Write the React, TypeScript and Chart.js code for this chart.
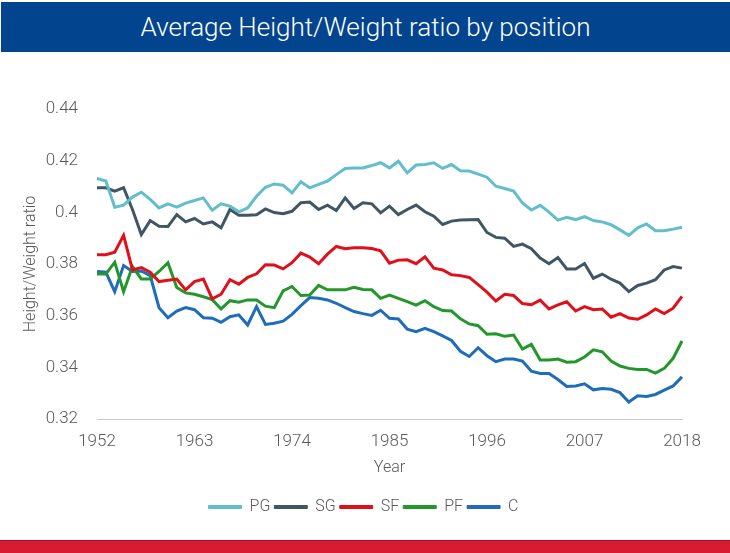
import React, { useEffect, useRef } from "react";
import { Chart, registerables } from "chart.js";

Chart.register(...registerables);

const years = [
  "1952","1953","1954","1955","1956","1957","1958","1959","1960","1961","1962",
  "1963","1964","1965","1966","1967","1968","1969","1970","1971","1972","1973",
  "1974","1975","1976","1977","1978","1979","1980","1981","1982","1983","1984",
  "1985","1986","1987","1988","1989","1990","1991","1992","1993","1994","1995",
  "1996","1997","1998","1999","2000","2001","2002","2003","2004","2005","2006",
  "2007","2008","2009","2010","2011","2012","2013","2014","2015","2016","2017",
  "2018",
];

const shownYears = ["1952", "1963", "1974", "1985", "1996", "2007", "2018"];

const pg = [
  0.4131, 0.4121, 0.4020, 0.4028, 0.4059, 0.4078, 0.4050, 0.4017, 0.4033, 0.4020, 0.4036,
  0.4046, 0.4056, 0.4008, 0.4033, 0.4024, 0.4002, 0.4017, 0.4062, 0.4097, 0.4110, 0.4105,
  0.4075, 0.4118, 0.4095, 0.4108, 0.4121, 0.4146, 0.4170, 0.4172, 0.4172, 0.4181, 0.4192,
  0.4172, 0.4198, 0.4153, 0.4183, 0.4185, 0.4192, 0.4170, 0.4185, 0.4161, 0.4160, 0.4148,
  0.4136, 0.4101, 0.4092, 0.4082, 0.4036, 0.4009, 0.4027, 0.4001, 0.3970, 0.3981, 0.3972,
  0.3983, 0.3968, 0.3963, 0.3952, 0.3932, 0.3911, 0.3940, 0.3955, 0.3929, 0.3929, 0.3935,
  0.3942,
];

const sg = [
  0.4095, 0.4095, 0.4082, 0.4095, 0.4011, 0.3914, 0.3968, 0.3946, 0.3945, 0.3991, 0.3963,
  0.3976, 0.3955, 0.3963, 0.3940, 0.4011, 0.3989, 0.3989, 0.3991, 0.4013, 0.3999, 0.3995,
  0.4004, 0.4037, 0.4040, 0.4011, 0.4028, 0.4007, 0.4056, 0.4015, 0.4037, 0.4033, 0.3998,
  0.4024, 0.3991, 0.4011, 0.4028, 0.4002, 0.3985, 0.3953, 0.3966, 0.3970, 0.3971, 0.3972,
  0.3922, 0.3903, 0.3900, 0.3868, 0.3877, 0.3859, 0.3823, 0.3801, 0.3825, 0.3781, 0.3781,
  0.3802, 0.3745, 0.3761, 0.3741, 0.3726, 0.3693, 0.3717, 0.3726, 0.3739, 0.3777, 0.3790,
  0.3784,
];

const sf = [
  0.3836, 0.3836, 0.3846, 0.3911, 0.3777, 0.3786, 0.3768, 0.3732, 0.3737, 0.3742, 0.3700,
  0.3732, 0.3742, 0.3665, 0.3683, 0.3739, 0.3722, 0.3748, 0.3762, 0.3797, 0.3796, 0.3781,
  0.3805, 0.3842, 0.3827, 0.3801, 0.3838, 0.3868, 0.3859, 0.3863, 0.3863, 0.3860, 0.3851,
  0.3803, 0.3815, 0.3816, 0.3801, 0.3828, 0.3784, 0.3777, 0.3758, 0.3755, 0.3748, 0.3720,
  0.3691, 0.3657, 0.3683, 0.3678, 0.3647, 0.3642, 0.3660, 0.3626, 0.3642, 0.3654, 0.3618,
  0.3635, 0.3623, 0.3626, 0.3594, 0.3608, 0.3591, 0.3586, 0.3603, 0.3626, 0.3608, 0.3629,
  0.3675,
];

const pf = [
  0.3761, 0.3761, 0.3807, 0.3693, 0.3790, 0.3742, 0.3742, 0.3771, 0.3805, 0.3709, 0.3688,
  0.3683, 0.3673, 0.3662, 0.3626, 0.3658, 0.3652, 0.3661, 0.3661, 0.3637, 0.3631, 0.3696,
  0.3713, 0.3678, 0.3680, 0.3717, 0.3700, 0.3700, 0.3700, 0.3710, 0.3701, 0.3700, 0.3667,
  0.3680, 0.3667, 0.3654, 0.3641, 0.3658, 0.3635, 0.3620, 0.3618, 0.3588, 0.3568, 0.3561,
  0.3528, 0.3530, 0.3520, 0.3525, 0.3471, 0.3489, 0.3428, 0.3428, 0.3432, 0.3420, 0.3422,
  0.3440, 0.3468, 0.3460, 0.3424, 0.3405, 0.3396, 0.3392, 0.3392, 0.3378, 0.3396, 0.3435,
  0.3502,
];

const c = [
  0.3771, 0.3768, 0.3693, 0.3794, 0.3771, 0.3773, 0.3755, 0.3631, 0.3592, 0.3618, 0.3631,
  0.3623, 0.3592, 0.3590, 0.3574, 0.3596, 0.3603, 0.3564, 0.3635, 0.3566, 0.3571, 0.3579,
  0.3605, 0.3639, 0.3670, 0.3667, 0.3661, 0.3648, 0.3631, 0.3616, 0.3608, 0.3601, 0.3621,
  0.3590, 0.3587, 0.3548, 0.3538, 0.3551, 0.3538, 0.3522, 0.3504, 0.3462, 0.3442, 0.3476,
  0.3445, 0.3422, 0.3432, 0.3432, 0.3424, 0.3385, 0.3376, 0.3376, 0.3353, 0.3326, 0.3328,
  0.3336, 0.3313, 0.3318, 0.3315, 0.3302, 0.3266, 0.3290, 0.3287, 0.3295, 0.3312, 0.3328,
  0.3363,
];

const seriesNames = ["PG", "SG", "SF", "PF", "C"];
const seriesColors = ["#62bdcd", "#415663", "#e0101a", "#24972b", "#1e6cba"];

const textColor = "#595959";
const fontFamily = "Roboto, 'Noto Sans', sans-serif";

export default function App() {
  const ref = useRef<HTMLCanvasElement>(null);

  useEffect(() => {
    document.body.style.margin = "0";
    Chart.defaults.font.family = fontFamily;
    const values = [pg, sg, sf, pf, c];
    const chart = new Chart(ref.current as HTMLCanvasElement, {
      type: "line",
      data: {
        labels: years,
        datasets: seriesNames.map((name, i) => ({
          label: name,
          data: values[i],
          borderColor: seriesColors[i],
          backgroundColor: seriesColors[i],
          borderWidth: 3,
          pointRadius: 0,
          tension: 0,
          fill: false,
        })),
      },
      options: {
        animation: false,
        responsive: false,
        layout: { padding: { left: 17, right: 20, top: 54, bottom: 0 } },
        plugins: {
          tooltip: { enabled: false },
          legend: {
            position: "bottom",
            labels: {
              boxWidth: 33,
              boxHeight: 3,
              padding: 4,
              color: textColor,
              font: { size: 16, weight: "300" as any, family: fontFamily },
              generateLabels: (ch: any) =>
                Chart.defaults.plugins.legend.labels
                  .generateLabels(ch)
                  .map((l: any) => ({ ...l, lineWidth: 1 })),
            },
          },
        },
        scales: {
          x: {
            type: "category",
            offset: false,
            grid: { display: false, drawTicks: false },
            border: { display: true, color: "#c8c8c8", width: 1 },
            ticks: {
              autoSkip: false,
              maxRotation: 0,
              minRotation: 0,
              padding: 13,
              color: textColor,
              font: { size: 17, weight: "300" as any, family: fontFamily },
              callback: function (this: any, value: any) {
                const lab = this.getLabelForValue(value);
                return shownYears.includes(lab) ? lab : "";
              },
            },
            title: {
              display: true,
              text: "Year",
              color: textColor,
              font: { size: 16, weight: "300" as any, family: fontFamily },
              padding: { top: 0, bottom: 17 },
            },
            afterFit: (s: any) => {
              s.height = 76;
            },
          },
          y: {
            min: 0.32,
            max: 0.44,
            grid: { display: false, drawTicks: false },
            border: { display: false },
            ticks: {
              stepSize: 0.02,
              padding: 19,
              color: textColor,
              font: { size: 17, weight: "300" as any, family: fontFamily },
              callback: (v: any) => parseFloat(Number(v).toFixed(2)).toString(),
            },
            title: {
              display: true,
              text: "Height/Weight ratio",
              color: textColor,
              font: { size: 16, weight: "300" as any, family: fontFamily },
              padding: { top: 4, bottom: 0 },
            },
            afterFit: (s: any) => {
              s.width = 80;
            },
          },
          yRight: {
            position: "right",
            display: true,
            grid: { display: false, drawTicks: false },
            border: { display: false },
            ticks: { display: false },
            afterFit: (s: any) => {
              s.width = 28;
            },
          },
        },
      },
    } as any);
    return () => chart.destroy();
  }, []);

  return (
    <div
      style={{
        position: "relative",
        width: 730,
        height: 553,
        background: "#ffffff",
        overflow: "hidden",
        fontFamily,
      }}
    >
      <div
        style={{
          position: "absolute",
          left: 1,
          top: 2,
          width: 729,
          height: 50,
          background: "#02448e",
          color: "#ffffff",
          fontSize: 26,
          fontWeight: 300,
          textAlign: "center",
          lineHeight: "50px",
        }}
      >
        Average Height/Weight ratio by position
      </div>
      <div style={{ position: "absolute", left: 0, top: 55, width: 730, height: 470 }}>
        <canvas ref={ref} width={730} height={470} style={{ display: "block" }} />
      </div>
      <div
        style={{
          position: "absolute",
          left: 0,
          top: 540,
          width: 730,
          height: 13,
          background: "#d81b31",
          borderTop: "1px solid #9e1426",
          boxSizing: "border-box",
        }}
      />
    </div>
  );
}
